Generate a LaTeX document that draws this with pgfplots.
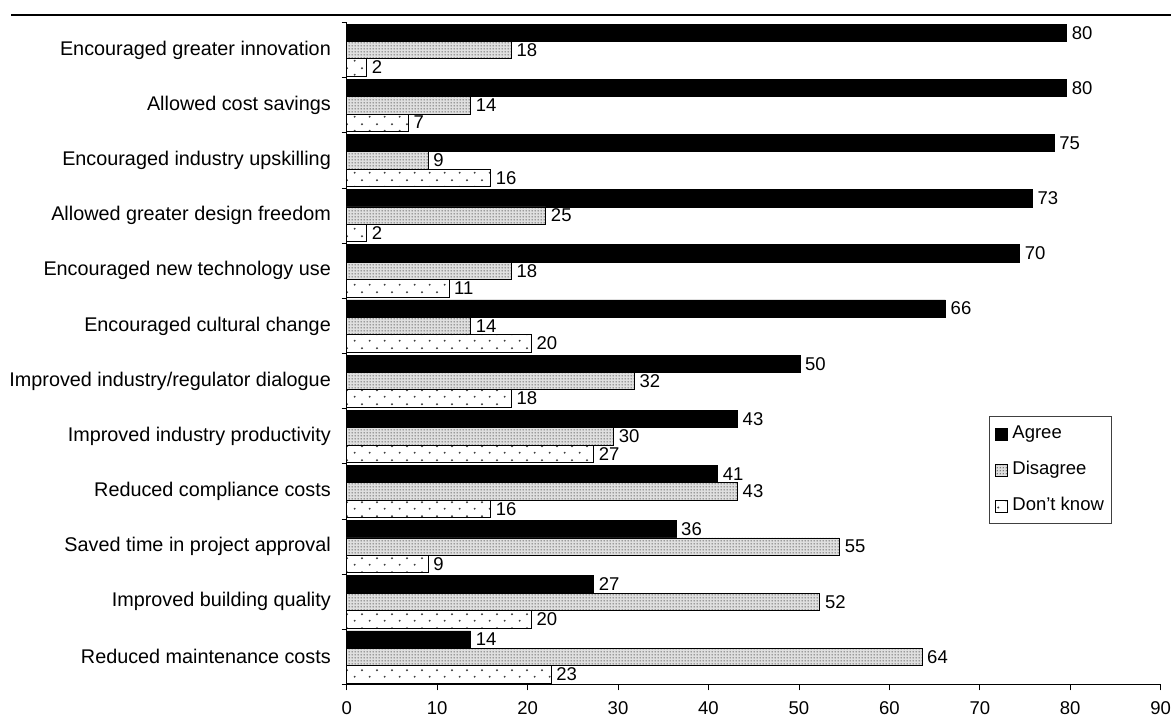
\documentclass[border=0pt]{standalone}
\usepackage{fontspec}
\setmainfont{Liberation Sans}
\usepackage{pgfplots}
\pgfplotsset{compat=1.18}
\usepackage{pgfplotstable}
\usetikzlibrary{patterns}

\pgfdeclarepatternformonly{densedots}{\pgfqpoint{0pt}{0pt}}{\pgfqpoint{3pt}{3pt}}{\pgfqpoint{3pt}{3pt}}{%
  \pgfpathcircle{\pgfqpoint{1.5pt}{1.5pt}}{0.85pt}\pgfusepath{fill}}
\pgfdeclarepatternformonly{sparsedots}{\pgfqpoint{0pt}{0pt}}{\pgfqpoint{15.3pt}{14pt}}{\pgfqpoint{15.3pt}{14pt}}{%
  \pgfpathcircle{\pgfqpoint{3.8pt}{3.5pt}}{1.15pt}%
  \pgfpathcircle{\pgfqpoint{11.45pt}{10.5pt}}{1.15pt}\pgfusepath{fill}}

\pgfplotstableread{
y    agree agreel dis  disl dk   dkl
11.5 79.6  80     18.2 18   2.2  2
10.5 79.6  80     13.7 14   6.8  7
9.5  78.2  75     9.0  9    15.9 16
8.5  75.8  73     22.0 25   2.2  2
7.5  74.4  70     18.2 18   11.3 11
6.5  66.2  66     13.7 14   20.4 20
5.5  50.1  50     31.8 32   18.2 18
4.5  43.2  43     29.5 30   27.3 27
3.5  41.0  41     43.2 43   15.9 16
2.5  36.4  36     54.5 55   9.0  9
1.5  27.3  27     52.3 52   20.4 20
0.5  13.7  14     63.6 64   22.6 23
}\datatable

\begin{document}
\fontsize{18.5}{22}\selectfont
\begin{tikzpicture}
\useasboundingbox (0,0) rectangle (1171pt,721pt);
\draw[line width=2pt] (11pt,705.5pt) -- (1171pt,705.5pt);
\begin{axis}[
  at={(346.7pt,36.5pt)}, anchor=south west,
  scale only axis, width=814pt, height=662pt,
  xmin=0, xmax=90, ymin=0, ymax=12,
  enlargelimits=false, clip=false,
  axis x line*=bottom, axis y line*=left,
  axis line style={line width=1pt, black},
  xtick={0,10,...,90},
  ytick={0.5,1.5,2.5,3.5,4.5,5.5,6.5,7.5,8.5,9.5,10.5,11.5},
  yticklabels={Reduced maintenance costs, Improved building quality, Saved time in project approval, Reduced compliance costs, Improved industry productivity, Improved industry/regulator dialogue, Encouraged cultural change, Encouraged new technology use, Allowed greater design freedom, Encouraged industry upskilling, Allowed cost savings, Encouraged greater innovation},
  minor ytick={0,1,...,12},
  tick align=outside, major tick length=6pt, minor tick length=5pt,
  major y tick style={draw=none},
  minor y tick style={line width=0.8pt, black},
  major x tick style={line width=0.8pt, black},
  yticklabel style={xshift=-3.5pt, font=\fontsize{19.8}{23}\selectfont},
  xticklabel style={yshift=-5pt},
  /pgf/number format/assume math mode=true,
  xbar, bar width=0.315,
  point meta=explicit symbolic,
  nodes near coords={\pgfplotspointmeta},
  nodes near coords style={anchor=west, inner sep=5pt},
  legend image code/.code={\draw[#1] (0pt,-6pt) rectangle (12pt,6pt);},
  legend style={at={(0.789,0.4056)}, anchor=north west, draw=black!75, line width=0.8pt,
    inner xsep=5.5pt, inner ysep=7pt, row sep=14.5pt, column sep=3pt,
    nodes={inner sep=2pt, text height=13.5pt, text depth=4pt, line width=0.6pt}},
  legend cell align=left,
]
\addplot[bar shift=0.315, fill=black, draw=black, line width=0.6pt] table[x=agree, y=y, meta=agreel] {\datatable};
\addlegendentry{Agree}
\addplot[bar shift=0, fill=gray!25, draw=black, line width=0.6pt,
  postaction={pattern=densedots, pattern color=black!65}] table[x=dis, y=y, meta=disl] {\datatable};
\addlegendentry{Disagree}
\addplot[bar shift=-0.315, fill=white, draw=black, line width=0.6pt,
  postaction={pattern=sparsedots, pattern color=black!75}] table[x=dk, y=y, meta=dkl] {\datatable};
\addlegendentry{Don't know}
\end{axis}
\end{tikzpicture}
\end{document}
